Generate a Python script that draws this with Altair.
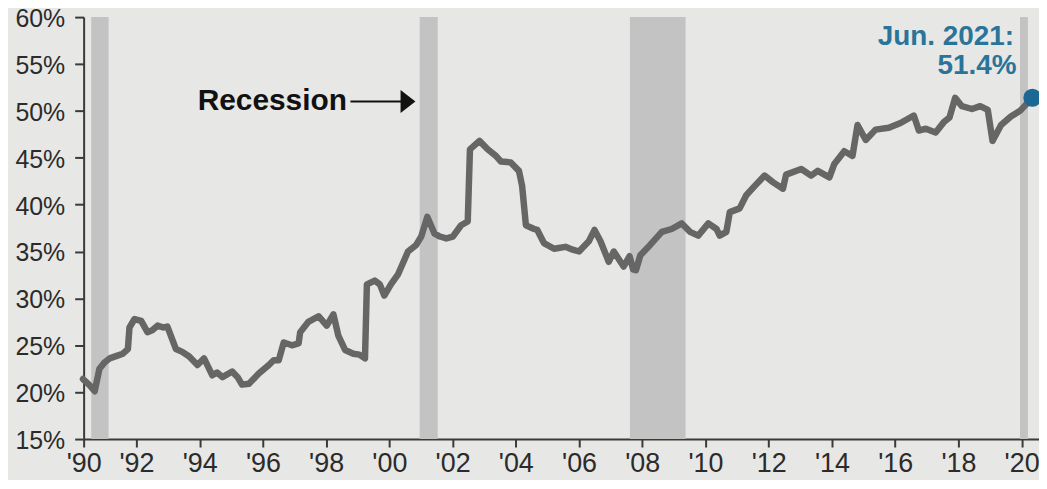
import altair as alt
import pandas as pd

# ---- data ----
years = [1990.31, 1990.50, 1990.68, 1990.83, 1991.00, 1991.15, 1991.40, 1991.57, 1991.73, 1991.78,
         1991.94, 1992.15, 1992.35, 1992.50, 1992.67, 1992.85, 1992.98, 1993.25, 1993.45, 1993.67,
         1993.93, 1994.14, 1994.40, 1994.55, 1994.72, 1995.03, 1995.20, 1995.34, 1995.56, 1995.87,
         1996.19, 1996.34, 1996.50, 1996.66, 1996.92, 1997.13, 1997.18, 1997.44, 1997.76, 1998.02,
         1998.23, 1998.39, 1998.60, 1998.86, 1999.05, 1999.23, 1999.29, 1999.54, 1999.70, 1999.84,
         2000.05, 2000.28, 2000.59, 2000.85, 2001.01, 2001.20, 2001.43, 2001.60, 2001.80, 2002.01,
         2002.27, 2002.48, 2002.55, 2002.85, 2003.11, 2003.37, 2003.53, 2003.84, 2004.10, 2004.20,
         2004.32, 2004.58, 2004.68, 2004.89, 2005.21, 2005.57, 2005.80, 2006.00, 2006.31, 2006.49,
         2006.68, 2006.94, 2007.10, 2007.41, 2007.60, 2007.71, 2007.80, 2007.94, 2008.25, 2008.62,
         2008.93, 2009.25, 2009.51, 2009.77, 2010.09, 2010.35, 2010.45, 2010.66, 2010.77, 2011.08,
         2011.29, 2011.56, 2011.87, 2012.13, 2012.45, 2012.55, 2013.03, 2013.34, 2013.55, 2013.92,
         2014.07, 2014.39, 2014.65, 2014.81, 2015.07, 2015.38, 2015.80, 2016.17, 2016.59, 2016.75,
         2016.97, 2017.28, 2017.54, 2017.72, 2017.90, 2018.11, 2018.43, 2018.69, 2018.93, 2019.08,
         2019.35, 2019.66, 2019.95, 2020.34]
share = [21.4, 20.8, 20.1, 22.5, 23.2, 23.6, 23.9, 24.1, 24.6, 26.9,
         27.8, 27.6, 26.4, 26.6, 27.1, 26.9, 27.0, 24.6, 24.3, 23.8,
         22.9, 23.6, 21.8, 22.1, 21.6, 22.2, 21.6, 20.8, 20.9, 22.0,
         22.9, 23.4, 23.4, 25.3, 25.0, 25.2, 26.4, 27.5, 28.1, 27.1,
         28.3, 26.0, 24.5, 24.1, 24.0, 23.6, 31.5, 31.9, 31.5, 30.3,
         31.5, 32.6, 35.0, 35.7, 36.6, 38.7, 36.9, 36.6, 36.4, 36.6,
         37.8, 38.2, 45.9, 46.8, 45.9, 45.2, 44.6, 44.5, 43.6, 42.0,
         37.8, 37.4, 37.3, 35.9, 35.3, 35.5, 35.2, 35.0, 36.1, 37.3,
         36.1, 33.9, 35.0, 33.4, 34.5, 33.1, 33.0, 34.6, 35.7, 37.1,
         37.4, 38.0, 37.1, 36.7, 38.0, 37.4, 36.7, 37.1, 39.2, 39.6,
         41.0, 42.0, 43.1, 42.4, 41.7, 43.2, 43.8, 43.1, 43.6, 42.9,
         44.3, 45.7, 45.2, 48.5, 46.9, 48.0, 48.2, 48.7, 49.5, 47.9,
         48.1, 47.7, 48.8, 49.3, 51.4, 50.5, 50.2, 50.5, 50.1, 46.8,
         48.5, 49.4, 50.0, 51.4]

rec_start = [1990.57, 2000.96, 2007.61, 2019.95]
rec_end = [1991.12, 2001.53, 2009.37, 2020.20]

x_ticks = [1990.33] + list(range(1992, 2021, 2))
y_ticks = list(range(15, 61, 5))

last_label_1 = "Jun. 2021:"
last_label_2 = "51.4%"
recession_label = "Recession"

# ---- chart ----
W, H = 960, 424
FONT = "Liberation Sans"
xs = alt.Scale(domain=[1990.33, 2020.55], nice=False, zero=False)
ys = alt.Scale(domain=[15, 60], nice=False, zero=False)

line_df = pd.DataFrame({"year": years, "share": share})
band_df = pd.DataFrame({"s": rec_start, "e": rec_end})
last_df = line_df.tail(1)
one = line_df.head(1)

x_axis = alt.Axis(values=x_ticks, labelExpr="\"'\" + slice(toString(floor(datum.value)), 2)",
                  title=None, grid=False, domainColor="#3a3a3a", domainWidth=2,
                  tickColor="#3a3a3a", tickWidth=2, tickSize=8, labelPadding=4,
                  labelFont=FONT, labelFontSize=27, labelColor="#2b2b2b",
                  labelFlush=False, labelOverlap=False)
y_axis = alt.Axis(values=y_ticks, labelExpr="datum.value + '%'", title=None, grid=False,
                  domainColor="#3a3a3a", domainWidth=2, tickColor="#3a3a3a", tickWidth=2,
                  tickSize=9, labelPadding=10, labelFont=FONT, labelFontSize=25,
                  labelOffset=1.5, labelColor="#2b2b2b", labelFlush=False,
                  labelOverlap=False)


def X(field):
    return alt.X(field, scale=xs, axis=x_axis, title=None)


def Y(field):
    return alt.Y(field, scale=ys, axis=y_axis, title=None)


bands = alt.Chart(band_df).mark_rect(color="#c3c3c3").encode(
    x=X("s:Q"), x2="e:Q", y=alt.value(0), y2=alt.value(H))

line = alt.Chart(line_df).mark_line(color="#666666", strokeWidth=6.5,
                                    strokeJoin="round", strokeCap="round").encode(
    x=X("year:Q"), y=Y("share:Q"))

dot = alt.Chart(last_df).mark_circle(color="#1b6895", size=330, opacity=1).encode(
    x=X("year:Q"), y=Y("share:Q"))

rec_text = alt.Chart(one).mark_text(
    text=recession_label, align="right", baseline="middle", font=FONT,
    fontSize=30, fontWeight="bold", color="#111111").encode(
    x=alt.datum(1998.66, scale=xs, axis=x_axis), y=alt.datum(51.0, scale=ys, axis=y_axis))

arrow_line = alt.Chart(one).mark_rule(color="#111111", strokeWidth=2).encode(
    x=alt.datum(1998.77, scale=xs, axis=x_axis), x2=alt.datum(2000.40),
    y=alt.datum(51.0, scale=ys, axis=y_axis))

arrow_head = alt.Chart(one).mark_point(
    shape="M -0.65 -1 L 0.65 0 L -0.65 1 Z", size=529, filled=True,
    color="#111111", opacity=1, strokeWidth=0).encode(
    x=alt.datum(2000.59, scale=xs, axis=x_axis), y=alt.datum(51.0, scale=ys, axis=y_axis))

lbl1 = alt.Chart(one).mark_text(
    text=last_label_1, align="right", baseline="alphabetic", font=FONT,
    fontSize=28, fontWeight="bold", color="#2b7499").encode(
    x=alt.datum(2019.76, scale=xs, axis=x_axis), y=alt.datum(57.05, scale=ys, axis=y_axis))

lbl2 = alt.Chart(one).mark_text(
    text=last_label_2, align="right", baseline="alphabetic", font=FONT,
    fontSize=28, fontWeight="bold", color="#2b7499").encode(
    x=alt.datum(2019.84, scale=xs, axis=x_axis), y=alt.datum(53.95, scale=ys, axis=y_axis))

chart = alt.layer(bands, line, dot, rec_text, arrow_line, arrow_head, lbl1, lbl2).properties(
    width=W, height=H,
    autosize=alt.AutoSizeParams(type="none"),
    padding={"left": 76, "top": 8, "right": 0, "bottom": 40},
    background="#e7e7e5",
).configure_view(stroke=None)

chart.save("out.html", embed_options={"renderer": "svg", "actions": False})
